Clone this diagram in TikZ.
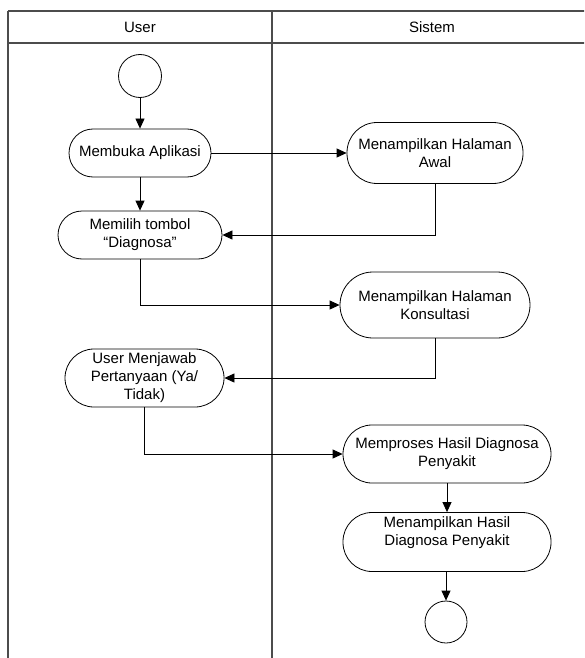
\documentclass[tikz,border=0pt]{standalone}
\usepackage{fontspec}
\setmainfont{Liberation Sans}
\usetikzlibrary{arrows.meta}
\tikzset{
  act/.style={draw=black, line width=0.8pt, rectangle, align=center, inner sep=0pt,
    font=\fontsize{15}{18}\selectfont},
  startend/.style={draw=black, line width=0.8pt, circle, minimum size=43pt, inner sep=0pt},
  flow/.style={draw=black, line width=0.8pt, -{Triangle[length=10pt,width=9pt]}},
  lane/.style={draw=black!70, line width=1.2pt},
  head/.style={font=\fontsize{15}{18}\selectfont}
}
\begin{document}
\begin{tikzpicture}[x=1pt,y=-1pt]
\useasboundingbox (0,0) rectangle (584,658);
\begin{scope}
\clip (0,0) rectangle (584,658);
\draw[lane] (8,11) -- (600,11);
\draw[lane] (8,43) -- (600,43);
\draw[lane] (8,11) -- (8,660);
\draw[lane] (272,11) -- (272,660);
\end{scope}
\node[head] (hu) at (140,27.5) {User};
\node[head] (hs) at (432,27.5) {Sistem};

\node[startend] (start) at (140,76) {};
\node[act, minimum width=142pt, minimum height=48pt, rounded corners=24pt] (a1) at (140,153) {Membuka Aplikasi};
\node[act, minimum width=164pt, minimum height=48pt, rounded corners=24pt] (a2) at (140,235) {Memilih tombol\\“Diagnosa”};
\node[act, minimum width=176pt, minimum height=61pt, rounded corners=30pt] (b1) at (435,153) {Menampilkan Halaman\\Awal};
\node[act, minimum width=190pt, minimum height=66pt, rounded corners=33pt] (b2) at (435,305) {Menampilkan Halaman\\Konsultasi};
\node[act, minimum width=159pt, minimum height=58pt, rounded corners=29pt] (a3) at (144.5,378) {User Menjawab\\Pertanyaan (Ya/\\Tidak)};
\node[act, minimum width=208pt, minimum height=58pt, rounded corners=29pt] (b3) at (447,454) {Memproses Hasil Diagnosa\\Penyakit};
\node[act, minimum width=208pt, minimum height=59pt, rounded corners=29pt] (b4) at (447,542) {Menampilkan Hasil\\Diagnosa Penyakit\vphantom{p}\\[-2pt]\strut};
\node[startend, minimum size=42pt] (end) at (446,622) {};

\draw[flow] (start) -- (a1);
\draw[flow] (a1) -- (a2);
\draw[flow] (a1.east) -- (b1.west);
\draw[flow] (b1.south) |- (a2.east);
\draw[flow] (a2.south) |- (b2.west);
\draw[flow] (b2.south) |- (a3.east);
\draw[flow] (a3.south) |- (b3.west);
\draw[flow] (b3.south -| b4.north) -- (b4.north);
\draw[flow] (b4.south -| end.north) -- (end.north);
\end{tikzpicture}
\end{document}
